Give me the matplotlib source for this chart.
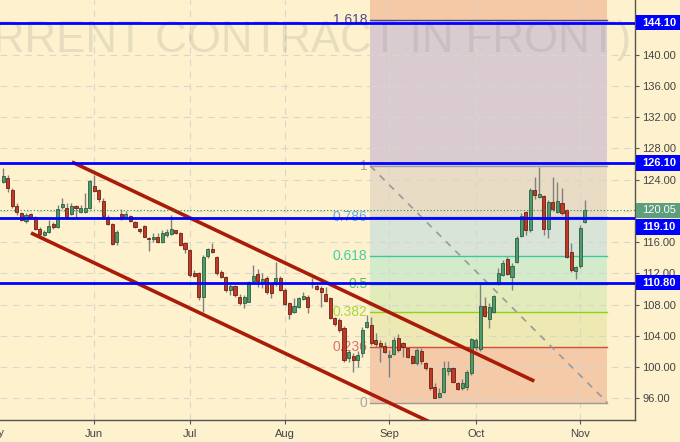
import matplotlib
matplotlib.use("Agg")
import matplotlib.pyplot as plt
import matplotlib.transforms as mtransforms
from matplotlib.patches import Rectangle
import numpy as np

# daily OHLC, one bar per trading day
opens = [123.7, 124.25, 122.67, 120.66, 119.7, 118.7, 119.56, 119.25, 117.68, 116.9,
         117.33, 118.28, 117.97, 120.5, 120.4, 119.56, 120.58, 119.8, 119.8, 120.4,
         123.22, 122.67, 121.26, 119.25, 118.28, 116.0, 119.56, 119.25, 119.34, 118.6,
         117.64, 118.06, 116.56, 116.44, 116.6, 116.05, 116.9, 117.04, 117.55, 117.13,
         115.85, 114.99, 112.0, 112.08, 109.0, 114.2, 115.08, 114.05, 112.2, 111.5,
         109.87, 110.38, 109.0, 108.17, 108.37, 111.0, 111.87, 110.93, 111.44, 110.6,
         110.6, 111.44, 109.87, 108.17, 107.1, 107.73, 108.72, 109.0, 110.8, 110.4,
         110.08, 109.3, 108.8, 106.3, 106.0, 105.04, 101.12, 101.4, 100.9, 101.76,
         105.1, 105.39, 103.46, 103.04, 102.7, 101.25, 101.67, 103.68, 103.04, 102.4,
         101.4, 100.5, 102.1, 100.56, 99.84, 97.4, 96.13, 96.85, 99.53, 99.84,
         97.92, 97.28, 97.49, 99.2, 102.6, 102.27, 107.82, 106.1, 107.09, 110.63,
         111.79, 113.8, 111.5, 113.49, 116.78, 119.9, 117.55, 122.67, 121.74, 121.9,
         117.64, 121.17, 119.9, 121.04, 120.1, 114.77, 112.34, 112.94, 118.6]
highs = [125.5, 124.6, 122.9, 121.0, 119.9, 119.7, 119.7, 119.4, 117.9, 117.5,
         118.8, 118.6, 120.7, 121.6, 121.0, 121.0, 120.7, 120.8, 122.25, 123.9,
         124.6, 122.8, 121.6, 119.5, 118.5, 117.55, 120.3, 120.0, 119.5, 118.7,
         117.8, 118.2, 116.7, 117.1, 117.1, 117.55, 117.64, 119.47, 117.6, 117.33,
         116.05, 115.08, 112.43, 112.2, 114.3, 115.3, 115.9, 114.2, 112.43, 111.66,
         110.73, 110.5, 109.3, 109.2, 111.0, 113.07, 112.6, 112.0, 111.6, 110.7,
         113.5, 111.6, 110.1, 108.3, 108.9, 109.0, 109.6, 109.2, 111.37, 110.6,
         110.4, 110.3, 109.0, 106.45, 106.24, 105.2, 102.2, 101.76, 102.1, 105.17,
         106.66, 106.45, 104.3, 103.46, 103.25, 102.2, 103.9, 104.2, 103.25, 102.6,
         101.54, 102.4, 102.4, 100.7, 100.05, 97.9, 97.28, 100.8, 100.8, 100.0,
         98.13, 98.43, 99.6, 103.68, 103.7, 110.7, 109.0, 108.15, 109.2, 112.65,
         113.7, 114.13, 113.3, 116.8, 119.7, 120.0, 122.9, 124.37, 125.66, 122.0,
         121.4, 124.37, 123.74, 122.9, 120.2, 115.85, 113.0, 118.2, 121.39]
lows = [123.6, 122.45, 120.4, 119.5, 118.7, 118.5, 119.0, 117.5, 116.8, 116.8,
        117.1, 117.7, 117.8, 120.3, 119.0, 119.5, 119.1, 119.7, 119.7, 120.3,
        122.4, 121.1, 119.1, 118.2, 115.6, 115.6, 118.8, 119.05, 118.6, 117.8,
        117.1, 116.6, 114.9, 116.05, 115.9, 115.9, 116.7, 116.9, 117.0, 115.5,
        114.57, 111.57, 111.5, 108.6, 107.1, 113.9, 114.57, 111.8, 111.37, 109.65,
        109.23, 109.0, 107.95, 107.5, 108.3, 110.9, 110.3, 110.1, 109.4, 108.9,
        110.4, 109.7, 107.95, 106.15, 106.9, 107.6, 108.6, 106.9, 110.1, 109.87,
        107.7, 108.3, 106.15, 105.3, 104.5, 100.7, 100.7, 99.4, 100.05, 101.3,
        104.96, 102.8, 102.6, 100.7, 101.76, 98.77, 101.54, 101.97, 101.33, 101.1,
        100.4, 100.26, 100.4, 99.6, 97.06, 96.0, 96.0, 96.7, 99.0, 97.9,
        97.06, 97.06, 97.06, 99.0, 102.2, 102.0, 106.45, 104.96, 106.96, 110.5,
        111.66, 111.8, 109.9, 113.3, 116.6, 116.9, 117.33, 121.5, 121.6, 116.9,
        116.5, 120.0, 119.7, 119.47, 113.9, 112.2, 111.3, 112.65, 118.4]
closes = [124.5, 122.97, 120.66, 119.8, 118.8, 119.5, 119.25, 117.68, 117.0, 117.3,
          118.1, 117.97, 120.24, 120.88, 119.2, 120.66, 120.37, 120.4, 120.4, 123.8,
          122.55, 121.48, 119.38, 118.28, 115.72, 117.33, 119.25, 119.56, 118.74, 117.9,
          117.46, 116.7, 116.4, 116.69, 116.05, 117.1, 117.33, 117.64, 117.13, 115.63,
          115.08, 111.79, 111.66, 109.0, 114.13, 115.08, 114.77, 112.08, 111.5, 109.87,
          110.38, 109.23, 108.17, 109.0, 110.85, 111.7, 111.0, 111.27, 109.65, 109.44,
          111.44, 109.87, 108.04, 106.76, 107.86, 108.88, 109.14, 107.73, 110.6, 110.0,
          109.57, 108.46, 106.24, 105.47, 104.74, 100.9, 101.89, 100.9, 101.54, 104.74,
          105.81, 103.04, 102.95, 102.7, 101.97, 101.54, 103.46, 102.18, 102.6, 101.33,
          100.56, 102.2, 100.8, 99.84, 97.28, 96.0, 96.72, 99.84, 99.84, 98.13,
          97.15, 97.92, 99.4, 103.55, 103.4, 107.82, 106.54, 107.73, 109.1, 112.0,
          113.28, 111.9, 112.94, 116.49, 119.34, 117.55, 122.67, 122.03, 122.16, 117.64,
          121.17, 120.2, 121.3, 119.7, 114.13, 112.43, 112.77, 117.77, 120.05]

month_names = ["May", "Jun", "Jul", "Aug", "Sep", "Oct", "Nov"]
month_bars = [-2.2, 20, 41, 62, 85, 104, 127]

key_levels = [144.10, 126.10, 119.10, 110.80]
last_price = 120.05

fib_ratios = [1.618, 1, 0.786, 0.618, 0.5, 0.382, 0.236, 0]
fib_labels = ["1.618", "1", "0.786", "0.618", "0.5", "0.382", "0.236", "0"]
fib_zero = 95.45
fib_one = 125.75
fib_bars = (80.8, 133.0)

# channel drawn by hand on the chart: (bar, price) end points
upper_channel = [(15.1, 126.26), (116.9, 98.2)]
lower_channel = [(6.1, 117.17), (95.0, 92.66)]

bg = "#fdf2cd"
txt_col = "#444444"

plt.rcParams["font.family"] = ["Liberation Sans", "DejaVu Sans"]

fig = plt.figure(figsize=(6.8, 4.42), dpi=100, facecolor=bg)
ax = fig.add_axes([0, 0.0509, 0.934, 0.9491])
ax.set_facecolor(bg)
ax.set_xlim(-0.73, 139.1)
ax.set_ylim(93.28, 147.0)

n = len(closes)
idx = np.arange(n)
o = np.array(opens)
c = np.array(closes)
h = np.array(highs)
l = np.array(lows)

# fib retracement zones
fib_prices = [fib_zero + r * (fib_one - fib_zero) for r in fib_ratios]
zone_cols = ["#f5c8a6", "#d9cbcf", "#e9dcc5", "#d8e4d8", "#d3ebca", "#e2ecbb", "#eee8b3", "#f4caa9"]
edges = [147.0] + fib_prices
for k in range(len(zone_cols)):
    ax.fill_between(fib_bars, edges[k + 1], edges[k], color=zone_cols[k], lw=0, zorder=0.5)

line_cols = ["#4040a0", "#a0a0a0", "#5aa0e6", "#3cc8a0", "#4cb84c", "#8fd020", "#d84a3a", "#9a9a9a"]
lab_cols = ["#4a4a8a", "#a8a8a8", "#64aaf0", "#40d0a0", "#50c850", "#a8d840", "#e07070", "#a8a8a8"]
for p, lc, tc, lab in zip(fib_prices, line_cols, lab_cols, fib_labels):
    ax.plot(fib_bars, [p, p], color=lc, lw=1.0, zorder=1)
    ax.text(80.2, p, lab, color=tc, fontsize=10, ha="right", va="center", zorder=1.2)

ax.plot(fib_bars, [fib_prices[1], fib_prices[-1]], color="#999999", lw=1.2,
        ls=(0, (4, 4)), zorder=1.1)

# grid
for yv in np.arange(96, 145, 4):
    ax.axhline(yv, color="#d9d6cc", lw=0.8, ls=(0, (6, 5)), zorder=0.8)
for xv in month_bars[1:]:
    ax.axvline(xv, color="#d9d6cc", lw=0.8, ls=(0, (6, 5)), zorder=0.8)

# watermark
ax.text(0.993, 1 - 52 / 419.5, "(CURRENT CONTRACT IN FRONT)", transform=ax.transAxes,
        fontsize=31.5, color="#8a8a8a", alpha=0.2,
        ha="right", va="baseline", zorder=0.9)

# candles
up = c >= o
ax.vlines(idx, l, h, color="#808080", lw=1.0, zorder=2)
body_lo = np.minimum(o, c)
body_h = np.maximum(np.abs(c - o), 0.12)
ax.bar(idx[up], body_h[up], bottom=body_lo[up], width=0.68,
       color="#4f9a6c", edgecolor="#2d5e3f", lw=0.6, zorder=2.2)
ax.bar(idx[~up], body_h[~up], bottom=body_lo[~up], width=0.68,
       color="#bf3a26", edgecolor="#6e1f12", lw=0.6, zorder=2.2)

# channel
for seg in (upper_channel, lower_channel):
    xs = [seg[0][0], seg[1][0]]
    ys = [seg[0][1], seg[1][1]]
    ax.plot(xs, ys, color="#a81c08", lw=2.6, solid_capstyle="butt", zorder=3)

# horizontal levels
for lv in key_levels:
    ax.axhline(lv, color="#0000ff", lw=2.0, zorder=3.2)
ax.axhline(last_price, color="#2e8b57", lw=0.8, ls=(0, (1, 2)), zorder=3.1)

# axes styling
for s in ("left", "top"):
    ax.spines[s].set_visible(False)
for s in ("right", "bottom"):
    ax.spines[s].set_color("#555555")
    ax.spines[s].set_linewidth(1.0)

ax.yaxis.tick_right()
ax.set_yticks(np.arange(96, 145, 4))
ax.set_yticklabels(["%.2f" % v for v in np.arange(96, 145, 4)])
ax.tick_params(axis="y", length=3, color="#555555", labelcolor=txt_col, labelsize=8, pad=2)
ax.set_xticks(month_bars[1:])
ax.set_xticklabels(month_names[1:])
ax.tick_params(axis="x", length=3, color="#555555", labelcolor=txt_col, labelsize=8, pad=4)

blend_x = mtransforms.blended_transform_factory(ax.transData, ax.transAxes)
ax.text(month_bars[0], -0.032, month_names[0], transform=blend_x, fontsize=8,
        color=txt_col, ha="center", va="center", clip_on=False)

# price boxes on the right axis; a box that would hit the last-price box moves down
blend = mtransforms.blended_transform_factory(fig.transFigure, ax.transData)
px = 7.809
box_h = 15.5 / px
boxes = [(last_price, last_price, "#5e9e7c", "normal")]
for lv in key_levels:
    pos = lv
    if abs(lv - last_price) < box_h:
        pos = last_price - box_h - 1.0 / px
    boxes.append((lv, pos, "#0000ff", "bold"))
for lv, pos, col, wt in boxes:
    ax.add_patch(Rectangle((636 / 680, pos - box_h / 2), 44 / 680, box_h, transform=blend,
                           facecolor=col, edgecolor="none", clip_on=False, zorder=5))
    ax.text(659 / 680, pos, "%.2f" % lv, transform=blend, color="white", fontsize=8,
            fontweight=wt, ha="center", va="center", clip_on=False, zorder=6)

fig.savefig("out.png", dpi=100, facecolor=bg)
